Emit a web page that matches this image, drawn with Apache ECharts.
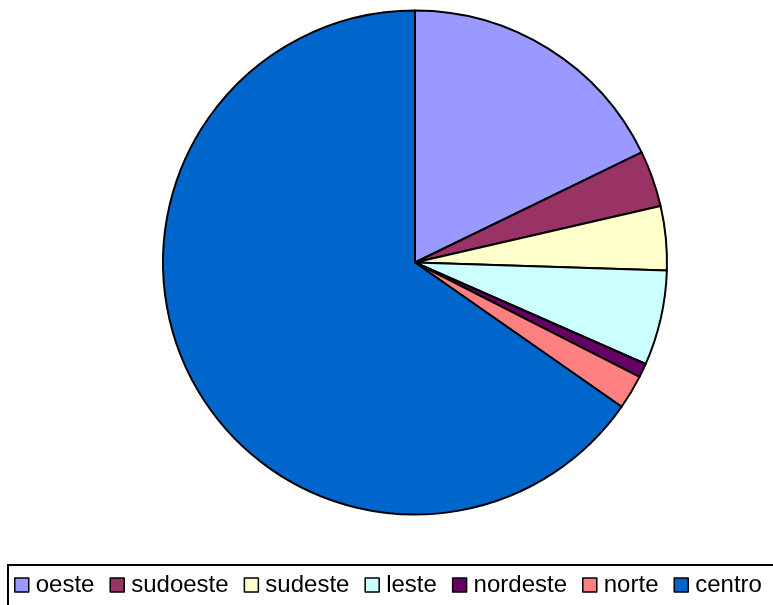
<!DOCTYPE html>
<html>
<head>
<meta charset="utf-8">
<script src="https://cdn.jsdelivr.net/npm/echarts@6/dist/echarts.min.js"></script>
<style>
  html, body { margin: 0; padding: 0; background: #fff; }
  #chart { width: 773px; height: 605px; }
</style>
</head>
<body>
<div id="chart"></div>
<script>
// Regions and their shares
const regions = ['oeste', 'sudoeste', 'sudeste', 'leste', 'nordeste', 'norte', 'centro'];
const shares = [17.8, 3.6, 4.1, 6.1, 0.9, 2.2, 65.3];
const colors = ['#9999FF', '#993366', '#FFFFCC', '#CCFFFF', '#660066', '#FF8080', '#0066CC'];

const chart = echarts.init(document.getElementById('chart'), null, { renderer: 'canvas' });

const pieData = regions.map((name, i) => ({
  name: name,
  value: shares[i],
  itemStyle: { color: colors[i] }
}));

chart.setOption({
  animation: false,
  backgroundColor: '#ffffff',
  graphic: [{
    type: 'rect',
    shape: { x: 8, y: 565, width: 800, height: 100 },
    style: { fill: '#ffffff', stroke: '#000000', lineWidth: 2 },
    z: -1
  }],
  legend: {
    data: regions,
    orient: 'horizontal',
    left: 14,
    top: 573,
    padding: 0,
    itemWidth: 14,
    itemHeight: 14,
    itemGap: 15,
    icon: 'rect',
    selectedMode: false,
    itemStyle: { borderColor: '#000000', borderWidth: 1.5 },
    textStyle: {
      fontFamily: 'Liberation Sans, Arial, sans-serif',
      fontSize: 24,
      color: '#000000',
      padding: [0, 0, 0, 2]
    }
  },
  series: [{
    type: 'pie',
    center: [415, 262.5],
    radius: [0, 252],
    startAngle: 90,
    clockwise: true,
    label: { show: false },
    labelLine: { show: false },
    emphasis: { disabled: true },
    itemStyle: { borderColor: '#000000', borderWidth: 2 },
    data: pieData
  }]
});
</script>
</body>
</html>
